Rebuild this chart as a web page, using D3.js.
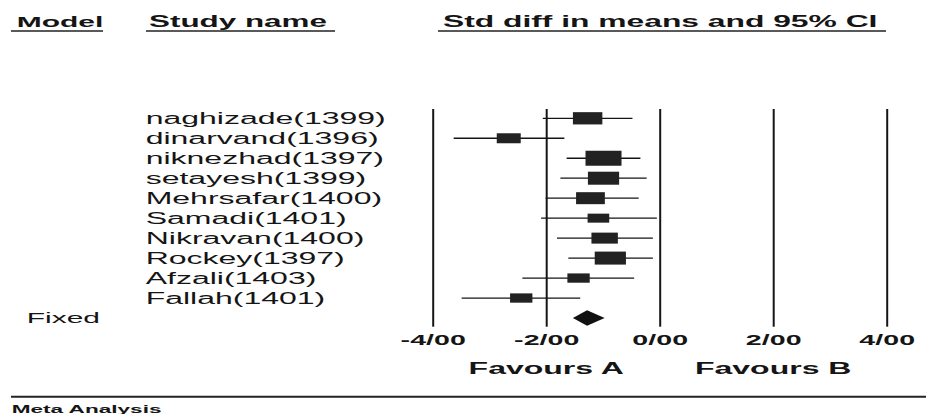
<!DOCTYPE html>
<html>
<head>
<meta charset="utf-8">
<script src="https://cdn.jsdelivr.net/npm/d3@7"></script>
<style>
  body { margin: 0; background: #fff; }
  svg { display: block; font-family: "Liberation Sans", Arial, sans-serif; }
</style>
</head>
<body>
<svg id="chart" width="937" height="414"></svg>
<script>
// study rows
const studies = [
  "naghizade(1399)", "dinarvand(1396)", "niknezhad(1397)", "setayesh(1399)",
  "Mehrsafar(1400)", "Samadi(1401)", "Nikravan(1400)", "Rockey(1397)",
  "Afzali(1403)", "Fallah(1401)"
];
const smd   = [-1.27, -2.66, -0.99, -0.99, -1.22, -1.08, -0.97, -0.87, -1.43, -2.44];
const lower = [-2.06, -3.63, -1.64, -1.75, -2.01, -2.09, -1.81, -1.61, -2.42, -3.49];
const upper = [-0.48, -1.68, -0.34, -0.23, -0.37, -0.05, -0.12, -0.12, -0.45, -1.40];
const weights = [11.3, 7.5, 16.9, 12.7, 10.8, 6.1, 9.1, 12.7, 6.5, 6.5];

// pooled (fixed effect)
const pooled = { label: "Fixed", est: -1.28, lo: -1.53, hi: -0.97 };

const tickValues = [-4, -2, 0, 2, 4];
const favourLabels = [{ text: "Favours A", at: -2 }, { text: "Favours B", at: 2 }];
const headers = [
  { text: "Model", x: 16.7, x0: 11, x1: 103, size: 15 },
  { text: "Study name", x: 149, x0: 146, x1: 335, size: 15.7 },
  { text: "Std diff in means and 95% CI", x: 443, x0: 438, x1: 886, size: 15.9 }
];

// the whole picture is stretched sideways, text included
const SX = 2.0;
const ink = "#151515";

const svg = d3.select("#chart");

const x = d3.scaleLinear().domain([-4, 4]).range([432.7, 886.7]);
const rowNames = studies.concat([pooled.label]);
const y = d3.scalePoint().domain(rowNames).range([118.3, 318]);
const boxH = d3.scaleSqrt().domain([0, 16.9]).range([0, 15]);

const gridTop = 109, gridBottom = 326.7;

// plain hyphen minus, slash as decimal mark
const fmt = d3.formatLocale({ decimal: "/", thousands: ",", grouping: [3], currency: ["", ""], minus: "-" }).format(".2f");

function stretchedText(g, tx, ty) {
  return g.append("text")
    .attr("transform", `translate(${tx},${ty}) scale(${SX},1)`)
    .attr("fill", ink);
}

// headers with underline
headers.forEach(h => {
  stretchedText(svg, h.x, 27.3)
    .attr("font-weight", "bold")
    .attr("font-size", h.size)
    .text(h.text);
  svg.append("line")
    .attr("x1", h.x0).attr("x2", h.x1)
    .attr("y1", 31).attr("y2", 31)
    .attr("stroke", "#222").attr("stroke-width", 1.5);
});

// axis + vertical grid lines
const axis = d3.axisBottom(x)
  .tickValues(tickValues)
  .tickSize(-(gridBottom - gridTop))
  .tickFormat(fmt);

const ax = svg.append("g")
  .attr("transform", `translate(0,${gridBottom})`)
  .call(axis);
ax.select(".domain").remove();
ax.selectAll(".tick line").attr("stroke", ink).attr("stroke-width", 2);
ax.selectAll(".tick text")
  .attr("y", 0).attr("dy", null)
  .attr("transform", `translate(0,18.3) scale(${SX},1)`)
  .attr("fill", ink)
  .attr("font-size", 14.3)
  .attr("font-weight", "bold")
  .attr("font-family", "Liberation Sans, Arial, sans-serif");

// study labels
const rows = svg.append("g");
studies.forEach((name, i) => {
  stretchedText(rows, 145.7, y(name) + 5.5)
    .attr("font-size", 16)
    .text(name);
});
stretchedText(rows, 26.7, y(pooled.label) + 4.7)
  .attr("font-size", 15)
  .text(pooled.label);

// CI whiskers and weight boxes
const marks = svg.append("g");
studies.forEach((name, i) => {
  const cy = y(name);
  marks.append("line")
    .attr("x1", x(lower[i])).attr("x2", x(upper[i]))
    .attr("y1", cy).attr("y2", cy)
    .attr("stroke", ink).attr("stroke-width", 1.3);
  const h = boxH(weights[i]);
  const w = h * 2.4;
  marks.append("rect")
    .attr("x", x(smd[i]) - w / 2).attr("y", cy - h / 2)
    .attr("width", w).attr("height", h)
    .attr("fill", "#222");
});

// pooled diamond
const py = y(pooled.label);
marks.append("path")
  .attr("d", d3.line()([
    [x(pooled.lo), py], [x(pooled.est), py - 7.8],
    [x(pooled.hi), py], [x(pooled.est), py + 7.8]
  ]) + "Z")
  .attr("fill", "#111");

// favour labels
favourLabels.forEach(f => {
  stretchedText(svg, x(f.at), 374.3)
    .attr("text-anchor", "middle")
    .attr("font-weight", "bold")
    .attr("font-size", 16)
    .text(f.text);
});

// footer
svg.append("line")
  .attr("x1", 11).attr("x2", 926)
  .attr("y1", 396.7).attr("y2", 396.7)
  .attr("stroke", "#222").attr("stroke-width", 2);
stretchedText(svg, 11.7, 412.5)
  .attr("font-weight", "bold")
  .attr("font-size", 11.3)
  .text("Meta Analysis");
</script>
</body>
</html>
